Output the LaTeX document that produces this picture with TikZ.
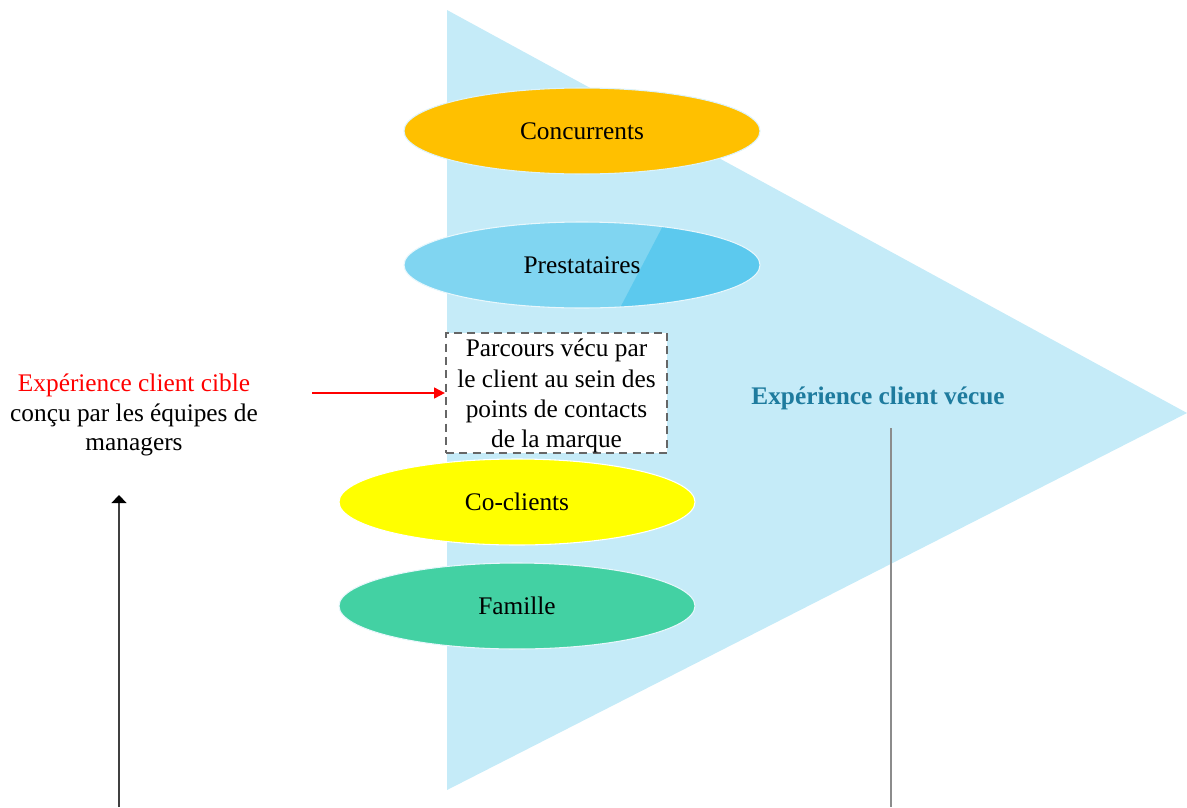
\documentclass[tikz,border=0pt]{standalone}
\usepackage{fontspec}
\setmainfont{Liberation Serif}
\usetikzlibrary{shapes.geometric,arrows.meta,calc}
\definecolor{tri}{HTML}{C5EBF8}
\definecolor{conc}{HTML}{FFC000}
\definecolor{prestL}{HTML}{80D5F1}
\definecolor{prestD}{HTML}{5CC9EE}
\definecolor{cocl}{HTML}{FFFF00}
\definecolor{fam}{HTML}{43D1A3}
\definecolor{vecue}{HTML}{1E7B9E}
\definecolor{dashgray}{HTML}{666666}
\tikzset{
  txt/.style={font=\fontsize{19}{22.4}\selectfont, align=center, inner sep=0pt},
  oval/.style={ellipse, minimum width=267pt, minimum height=64.5pt, inner sep=0pt, draw=white!70!tri, line width=0.8pt, txt},
}
\begin{document}
\begin{tikzpicture}[x=0.75pt,y=-0.75pt]
\useasboundingbox (0,0) rectangle (1187,807);
% triangle
\fill[tri] (447,10) -- (1187,413) -- (447,790) -- cycle;
% ellipses
\node[oval, fill=conc, draw=white!40!tri] (conc) at (582,131) {Concurrents};
\node[oval, fill=prestL, draw=white!60!tri,
  path picture={\fill[prestD] ($(path picture bounding box.north)+(62.25pt,0)$) -- (path picture bounding box.north east) -- (path picture bounding box.south east) -- ($(path picture bounding box.south)+(28.5pt,0)$) -- cycle;}] (prest) at (582,265) {};
\node[txt] (prestt) at (prest) {Prestataires};
\node[oval, fill=cocl, draw=white] (cocl) at (517,502) {Co-clients};
\node[oval, fill=fam, draw=white!60!tri] (fam) at (517,606) {Famille};
% dashed box
\node[draw=dashgray, dashed, dash pattern=on 6pt off 4pt, line width=1.4pt, fill=white,
  minimum width=166pt, minimum height=90pt, inner sep=0pt] (box) at (556.5,393) {};
\node[txt, font=\fontsize{19}{22.6}\selectfont] (boxt) at (556.5,396) {Parcours vécu par\\le client au sein des\\points de contacts\\de la marque};
% left text
\node[txt] (cible) at (134,415) {\textcolor{red}{Expérience client cible}\\conçu par les équipes de\\managers};
% right label
\node[txt, font=\fontsize{19}{22.4}\selectfont\bfseries, text=vecue] (vecu) at (878,398) {Expérience client vécue};
% connectors
\coordinate (rstart) at (312,393);
\draw[red, line width=1.4pt, -{Triangle[length=8pt,width=8pt]}] (rstart) -- (box.west);
\coordinate (bstart) at (119,807);
\coordinate (bend) at (119,495);
\draw[black!75, line width=2pt, -{Triangle[length=6pt,width=11pt,fill=black,color=black]}] (bstart) -- (bend);
\coordinate (gtop) at (891,428);
\coordinate (gbot) at (891,807);
\draw[black!45, line width=1.8pt] (gtop) -- (gbot);
\end{tikzpicture}
\end{document}
